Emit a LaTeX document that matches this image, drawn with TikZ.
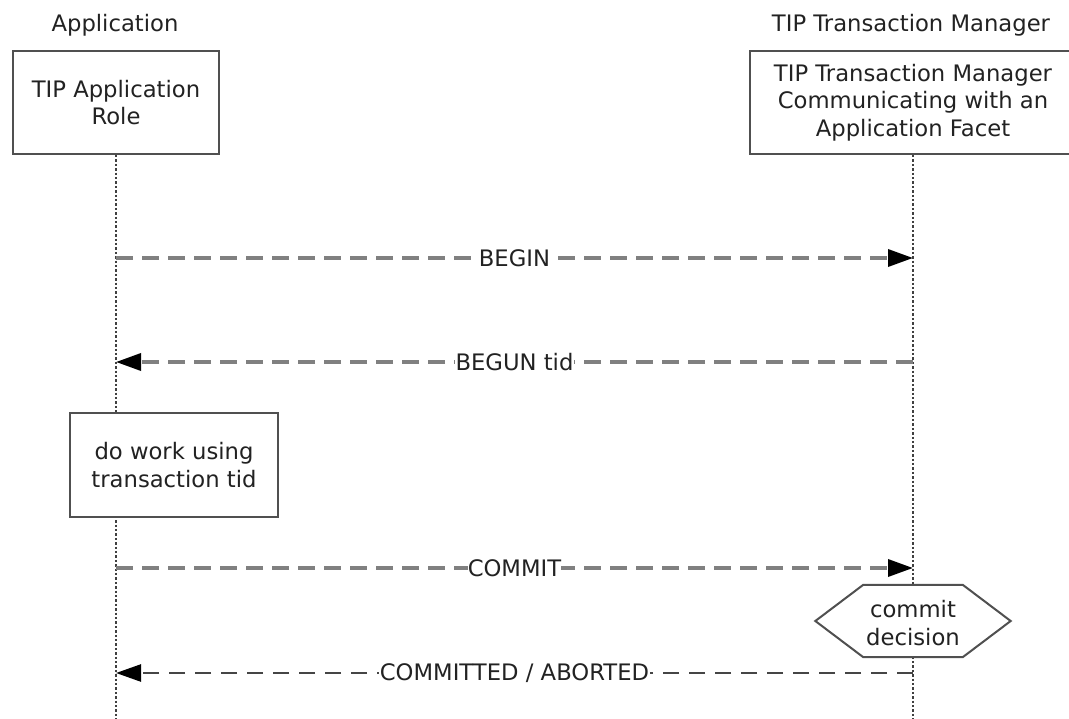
\documentclass[tikz,border=0pt]{standalone}
\usepackage{fontspec}
\setmainfont{DejaVu Sans}
\usetikzlibrary{arrows.meta}
\definecolor{txt}{HTML}{222222}
\definecolor{dashgray}{HTML}{808080}
\definecolor{dashdark}{HTML}{454545}
\definecolor{boxline}{HTML}{505050}
\definecolor{lifecol}{HTML}{404040}
\begin{document}
\begin{tikzpicture}[x=1pt,y=-1pt,
  every node/.style={font=\fontsize{22.7}{27.5}\selectfont, text=txt},
  rolebox/.style={draw=boxline, line width=2pt, fill=white, align=center, inner sep=0pt},
  lifeline/.style={draw=lifecol, line width=2.6pt, dash pattern=on 2.4pt off 2pt},
  msg/.style={draw=dashgray, line width=3.5pt, dash pattern=on 17pt off 9pt,
    -{Triangle[length=25pt,width=17pt,fill=black,color=black]}},
  msgdark/.style={msg, draw=dashdark, line width=2.5pt, dash pattern=on 16pt off 10pt},
  lbl/.style={fill=white, inner sep=1pt}
]
\useasboundingbox (0,0) rectangle (1069,719);

% headers
\node[anchor=base] (apphdr) at (115,32) {Application};
\node[anchor=base] (tmhdr) at (911,32) {TIP Transaction Manager};

% role boxes
\node[rolebox, minimum width=206pt, minimum height=103pt] (app) at (116,102.5) {TIP Application\\Role};
\node[rolebox, minimum width=326pt, minimum height=103pt] (tm) at (913,102.5) {TIP Transaction Manager\\Communicating with an\\Application Facet};

% lifelines
\coordinate (append) at (116,719);
\coordinate (tmend) at (913,719);
\draw[lifeline] (app.south) -- (append);
\draw[lifeline] (tm.south) -- (tmend);

% activity box
\node[rolebox, minimum width=208pt, minimum height=104pt] (work) at (174,465) {do work using\\transaction tid};

% decision hexagon
\node[minimum width=99pt, minimum height=72pt, inner sep=0pt] (dec) at (913,621) {};
\draw[boxline, line width=2pt, fill=white, line join=miter]
  (dec.north west) -- (dec.north east) -- ([xshift=48pt]dec.east) -- (dec.south east)
  -- (dec.south west) -- ([xshift=-48pt]dec.west) -- cycle;
\node[align=center] (dectext) at ([yshift=-2pt]dec.center) {commit\\decision};

% message anchors
\coordinate (a1) at (116,258); \coordinate (t1) at (913,258);
\coordinate (a2) at (116,362); \coordinate (t2) at (913,362);
\coordinate (a3) at (116,568); \coordinate (t3) at (913,568);
\coordinate (a4) at (116,673); \coordinate (t4) at (913,673);

\draw[msg] (a1) -- node[lbl] (m1) {BEGIN} (t1);
\draw[msg] (t2) -- node[lbl] (m2) {BEGUN tid} (a2);
\draw[msg] (a3) -- node[lbl, inner sep=0pt] (m3) {COMMIT} (t3);
\draw[msgdark] (t4) -- node[lbl] (m4) {COMMITTED / ABORTED} (a4);
\end{tikzpicture}
\end{document}
